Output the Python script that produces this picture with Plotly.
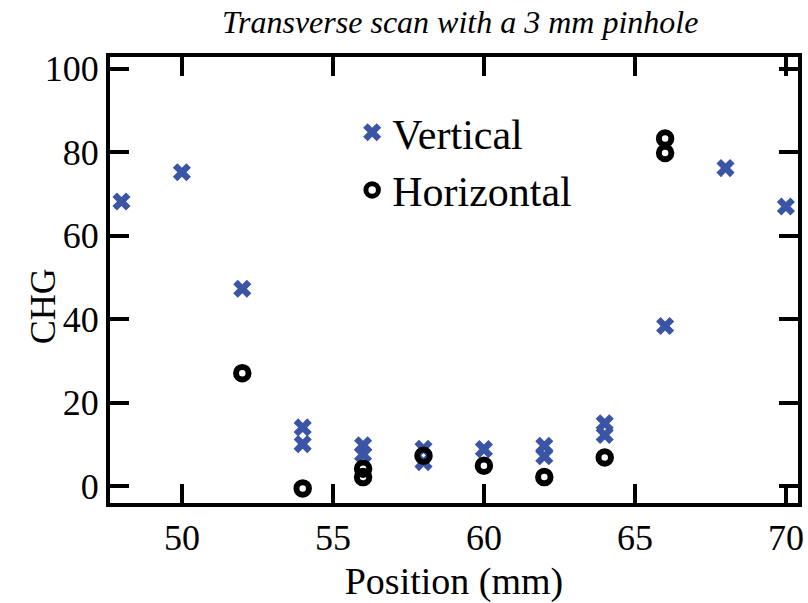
import plotly.graph_objects as go

# Transverse scan: charge (CHG) vs. pinhole position
vert_pos = [48, 50, 52, 54, 54, 56, 56, 58, 58, 60, 62, 62, 64, 64, 66, 68, 70]
vert_chg = [68.2, 75.2, 47.3, 14.1, 10.1, 9.8, 7.7, 9.0, 5.8, 8.9, 9.7, 7.2, 15.1, 12.3, 38.4, 76.2, 67.0]

horiz_pos = [52, 54, 56, 56, 58, 60, 62, 64, 66, 66]
horiz_chg = [27.1, -0.5, 4.2, 2.2, 7.3, 4.9, 2.2, 6.9, 83.3, 79.8]

x_ticks = [50, 55, 60, 65, 70]
y_ticks = [0, 20, 40, 60, 80, 100]

SERIF = "Liberation Serif"
BLUE = "#3a54a6"

fig = go.Figure()
fig.add_trace(go.Scatter(
    x=vert_pos, y=vert_chg, mode="markers", name="Vertical",
    marker=dict(symbol="x", size=16, color=BLUE, line=dict(width=0)),
))
fig.add_trace(go.Scatter(
    x=horiz_pos, y=horiz_chg, mode="markers", name="Horizontal",
    marker=dict(symbol="circle-open", size=12.5, color="black",
                line=dict(width=6, color="black")),
))

axis_common = dict(
    showline=True, linewidth=4, linecolor="black", mirror="ticks",
    ticks="inside", ticklen=19, tickwidth=4, tickcolor="black",
    showgrid=False, zeroline=False,
    tickfont=dict(family=SERIF, size=36, color="black"),
)

fig.update_xaxes(
    range=[47.62, 70.4], tickvals=x_ticks,
    title=dict(text="Position (mm)", font=dict(family=SERIF, size=38, color="black"),
               standoff=14),
    **axis_common,
)
fig.update_yaxes(
    range=[-4.0, 102.8], tickvals=y_ticks,
    **axis_common,
)

fig.add_annotation(
    text="CHG", textangle=-90, xref="paper", yref="paper",
    x=-0.098, y=0.44, xanchor="center", yanchor="middle", showarrow=False,
    font=dict(family=SERIF, size=36, color="black"),
)

fig.update_layout(
    width=808, height=603,
    margin=dict(l=110, r=4, t=57, b=99),
    paper_bgcolor="white", plot_bgcolor="white",
    title=dict(text="<i>Transverse scan with a 3 mm pinhole</i>",
               font=dict(family=SERIF, size=32, color="black"),
               x=0.509, xref="paper", xanchor="center",
               y=1 - 22 / 603, yref="container", yanchor="middle"),
    legend=dict(x=0.352, y=0.907, xanchor="left", yanchor="top",
                font=dict(family=SERIF, size=42, color="black"),
                bgcolor="rgba(0,0,0,0)", itemsizing="trace"),
    showlegend=True,
)

fig.write_html("out.html")
